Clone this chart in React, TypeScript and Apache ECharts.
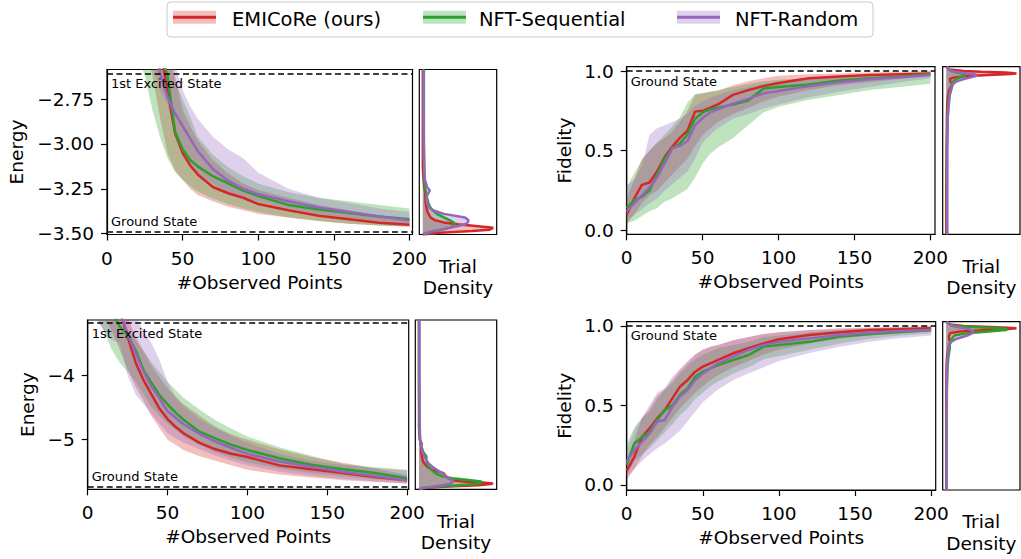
import React, { useEffect, useRef } from "react";
import * as echarts from "echarts";

// ---------- data ----------
const METHODS = ["EMICoRe (ours)", "NFT-Sequential", "NFT-Random"];
const COLORS = ["#d62728", "#2ca02c", "#9467bd"];
const X_TICKS = [0, 50, 100, 150, 200];
const X = [0, 5, 10, 15, 20, 25, 30, 35, 40, 45, 50, 55, 60, 70, 80, 90, 100, 120, 140, 160, 180, 200];

// top-left: energy
const E1_RED_MEAN = [-1.30, -1.45, -1.62, -1.80, -1.98, -2.15, -2.32, -2.47, -2.70, -2.94, -3.05, -3.12, -3.17, -3.24, -3.275, -3.30, -3.335, -3.37, -3.40, -3.42, -3.44, -3.45];
const E1_RED_LO = [-1.60, -1.75, -1.92, -2.10, -2.28, -2.45, -2.62, -2.85, -3.05, -3.15, -3.20, -3.25, -3.285, -3.32, -3.35, -3.37, -3.39, -3.41, -3.43, -3.445, -3.455, -3.46];
const E1_RED_HI = [-1.00, -1.15, -1.32, -1.50, -1.68, -1.85, -2.02, -2.20, -2.40, -2.62, -2.81, -2.90, -2.98, -3.09, -3.164, -3.22, -3.257, -3.30, -3.34, -3.37, -3.40, -3.425];
const E1_GRN_MEAN = [-1.30, -1.45, -1.62, -1.80, -1.98, -2.15, -2.32, -2.47, -2.62, -2.93, -3.03, -3.09, -3.125, -3.18, -3.22, -3.26, -3.29, -3.34, -3.365, -3.385, -3.405, -3.42];
const E1_GRN_LO = [-1.70, -1.90, -2.10, -2.30, -2.50, -2.62, -2.81, -2.96, -3.08, -3.155, -3.20, -3.235, -3.265, -3.305, -3.335, -3.36, -3.38, -3.41, -3.43, -3.445, -3.455, -3.462];
const E1_GRN_HI = [-1.00, -1.15, -1.32, -1.50, -1.68, -1.85, -2.02, -2.20, -2.45, -2.65, -2.75, -2.85, -2.96, -3.06, -3.13, -3.18, -3.22, -3.27, -3.30, -3.32, -3.34, -3.36];
const E1_PUR_MEAN = [-1.20, -1.35, -1.52, -1.70, -1.88, -2.05, -2.25, -2.60, -2.74, -2.83, -2.90, -2.97, -3.04, -3.14, -3.205, -3.25, -3.28, -3.32, -3.355, -3.38, -3.405, -3.425];
const E1_PUR_LO = [-1.50, -1.65, -1.82, -2.00, -2.18, -2.35, -2.55, -2.70, -2.78, -2.95, -3.07, -3.12, -3.16, -3.22, -3.276, -3.30, -3.32, -3.36, -3.39, -3.415, -3.43, -3.45];
const E1_PUR_HI = [-0.90, -1.05, -1.22, -1.40, -1.58, -1.75, -1.92, -2.10, -2.35, -2.56, -2.70, -2.79, -2.86, -2.96, -3.03, -3.08, -3.16, -3.25, -3.30, -3.33, -3.36, -3.38];
const E1_GROUND = -3.489;
const E1_EXCITED = -2.608;
const E1_TICKS = [-3.5, -3.25, -3.0, -2.75];

// top-right: fidelity
const F1_RED_MEAN = [0.10, 0.20, 0.285, 0.30, 0.37, 0.46, 0.525, 0.58, 0.625, 0.745, 0.75, 0.77, 0.79, 0.85, 0.88, 0.905, 0.925, 0.955, 0.965, 0.975, 0.98, 0.985];
const F1_RED_LO = [0.04, 0.10, 0.17, 0.22, 0.25, 0.30, 0.35, 0.40, 0.45, 0.53, 0.60, 0.64, 0.68, 0.73, 0.77, 0.81, 0.84, 0.88, 0.91, 0.93, 0.95, 0.97];
const F1_RED_HI = [0.20, 0.32, 0.45, 0.50, 0.55, 0.58, 0.62, 0.68, 0.75, 0.85, 0.86, 0.87, 0.875, 0.91, 0.935, 0.955, 0.97, 0.98, 0.985, 0.99, 0.995, 1.0];
const F1_GRN_MEAN = [0.14, 0.19, 0.21, 0.25, 0.35, 0.45, 0.515, 0.545, 0.60, 0.70, 0.74, 0.76, 0.77, 0.79, 0.815, 0.89, 0.90, 0.915, 0.94, 0.954, 0.964, 0.98];
const F1_GRN_LO = [0.044, 0.06, 0.09, 0.12, 0.14, 0.18, 0.20, 0.23, 0.26, 0.33, 0.42, 0.48, 0.52, 0.58, 0.66, 0.74, 0.775, 0.82, 0.85, 0.88, 0.90, 0.92];
const F1_GRN_HI = [0.27, 0.36, 0.44, 0.50, 0.55, 0.60, 0.65, 0.71, 0.80, 0.855, 0.86, 0.87, 0.88, 0.90, 0.92, 0.935, 0.945, 0.955, 0.965, 0.975, 0.98, 0.99];
const F1_PUR_MEAN = [0.12, 0.17, 0.22, 0.27, 0.33, 0.42, 0.515, 0.53, 0.56, 0.66, 0.705, 0.74, 0.76, 0.795, 0.825, 0.86, 0.875, 0.905, 0.93, 0.948, 0.96, 0.975];
const F1_PUR_LO = [0.06, 0.10, 0.13, 0.17, 0.20, 0.25, 0.29, 0.33, 0.37, 0.45, 0.55, 0.60, 0.64, 0.70, 0.73, 0.765, 0.79, 0.835, 0.87, 0.90, 0.93, 0.954];
const F1_PUR_HI = [0.28, 0.32, 0.40, 0.60, 0.64, 0.66, 0.68, 0.70, 0.73, 0.78, 0.81, 0.83, 0.85, 0.88, 0.90, 0.92, 0.93, 0.95, 0.96, 0.97, 0.98, 0.985];

// bottom-left: energy
const E2_RED_MEAN = [-2.40, -2.55, -2.70, -2.85, -3.00, -3.40, -3.80, -4.08, -4.30, -4.52, -4.68, -4.80, -4.90, -5.05, -5.15, -5.22, -5.27, -5.40, -5.46, -5.52, -5.58, -5.63];
const E2_RED_LO = [-2.80, -2.95, -3.10, -3.30, -3.60, -3.90, -4.18, -4.40, -4.64, -4.82, -5.00, -5.08, -5.16, -5.26, -5.33, -5.40, -5.47, -5.54, -5.59, -5.63, -5.66, -5.68];
const E2_RED_HI = [-2.00, -2.15, -2.30, -2.50, -2.90, -3.10, -3.40, -3.62, -3.85, -4.03, -4.20, -4.33, -4.45, -4.63, -4.80, -4.92, -5.00, -5.15, -5.27, -5.36, -5.45, -5.55];
const E2_GRN_MEAN = [-2.50, -2.65, -2.80, -3.00, -3.24, -3.38, -3.61, -3.92, -4.12, -4.31, -4.45, -4.58, -4.69, -4.876, -4.98, -5.08, -5.16, -5.29, -5.39, -5.46, -5.52, -5.60];
const E2_GRN_LO = [-2.90, -3.10, -3.30, -3.60, -3.80, -3.95, -4.10, -4.30, -4.50, -4.63, -4.75, -4.85, -4.95, -5.08, -5.20, -5.28, -5.35, -5.45, -5.52, -5.57, -5.62, -5.66];
const E2_GRN_HI = [-2.00, -2.20, -2.50, -3.10, -3.20, -3.30, -3.45, -3.62, -3.80, -3.95, -4.10, -4.23, -4.35, -4.53, -4.70, -4.83, -4.95, -5.12, -5.25, -5.38, -5.43, -5.47];
const E2_PUR_MEAN = [-2.40, -2.55, -2.70, -2.85, -3.00, -3.35, -3.66, -3.94, -4.18, -4.36, -4.56, -4.66, -4.76, -4.91, -5.03, -5.13, -5.22, -5.34, -5.42, -5.50, -5.565, -5.63];
const E2_PUR_LO = [-2.90, -3.10, -3.30, -3.45, -3.50, -4.00, -4.30, -4.45, -4.60, -4.75, -4.90, -4.98, -5.05, -5.15, -5.25, -5.33, -5.40, -5.50, -5.56, -5.61, -5.65, -5.68];
const E2_PUR_HI = [-2.00, -2.10, -2.20, -2.40, -2.60, -2.85, -3.10, -3.30, -3.50, -3.76, -4.10, -4.35, -4.48, -4.68, -4.82, -4.94, -5.05, -5.22, -5.33, -5.40, -5.44, -5.48];
const E2_GROUND = -5.73;
const E2_EXCITED = -3.193;
const E2_TICKS = [-5, -4];

// bottom-right: fidelity
const F2_RED_MEAN = [0.088, 0.176, 0.30, 0.355, 0.418, 0.47, 0.544, 0.618, 0.66, 0.712, 0.744, 0.765, 0.786, 0.828, 0.86, 0.89, 0.916, 0.943, 0.96, 0.975, 0.98, 0.985];
const F2_RED_LO = [0.03, 0.10, 0.18, 0.25, 0.30, 0.36, 0.42, 0.48, 0.53, 0.58, 0.62, 0.66, 0.69, 0.74, 0.78, 0.82, 0.85, 0.89, 0.92, 0.94, 0.955, 0.965];
const F2_RED_HI = [0.16, 0.28, 0.42, 0.48, 0.56, 0.60, 0.66, 0.72, 0.77, 0.82, 0.85, 0.87, 0.88, 0.91, 0.93, 0.95, 0.96, 0.975, 0.985, 0.99, 0.995, 1.0];
const F2_GRN_MEAN = [0.124, 0.26, 0.30, 0.334, 0.408, 0.47, 0.50, 0.565, 0.607, 0.68, 0.712, 0.733, 0.754, 0.786, 0.817, 0.87, 0.88, 0.90, 0.933, 0.95, 0.962, 0.975];
const F2_GRN_LO = [0.06, 0.15, 0.19, 0.23, 0.28, 0.33, 0.38, 0.44, 0.48, 0.54, 0.58, 0.62, 0.65, 0.70, 0.74, 0.79, 0.81, 0.85, 0.89, 0.92, 0.94, 0.955];
const F2_GRN_HI = [0.26, 0.36, 0.42, 0.46, 0.54, 0.60, 0.64, 0.70, 0.75, 0.79, 0.82, 0.84, 0.86, 0.88, 0.90, 0.93, 0.94, 0.96, 0.975, 0.985, 0.99, 0.995];
const F2_PUR_MEAN = [0.145, 0.218, 0.27, 0.323, 0.397, 0.408, 0.49, 0.555, 0.597, 0.66, 0.70, 0.733, 0.765, 0.807, 0.849, 0.88, 0.90, 0.922, 0.943, 0.958, 0.968, 0.975];
const F2_PUR_LO = [0.05, 0.10, 0.15, 0.19, 0.23, 0.26, 0.30, 0.34, 0.40, 0.46, 0.52, 0.56, 0.60, 0.66, 0.70, 0.74, 0.78, 0.83, 0.87, 0.90, 0.925, 0.94];
const F2_PUR_HI = [0.22, 0.34, 0.42, 0.50, 0.58, 0.61, 0.68, 0.73, 0.78, 0.82, 0.85, 0.87, 0.88, 0.91, 0.93, 0.95, 0.96, 0.975, 0.98, 0.985, 0.99, 0.995];
const F_GROUND = 1.0;
const F_TICKS = [0, 0.5, 1.0];

// trial densities (normalised), sampled along the value axis
const D1_Y = [-3.505, -3.495, -3.485, -3.478, -3.468, -3.458, -3.448, -3.438, -3.425, -3.41, -3.39, -3.37, -3.35, -3.33, -3.30, -3.28, -3.26, -3.24, -3.20, -3.13, -3.0, -2.8, -2.585];
const D1_RED = [0, 0.25, 0.7, 0.95, 1.0, 0.75, 0.5, 0.3, 0.17, 0.11, 0.08, 0.06, 0.05, 0.04, 0.035, 0.035, 0.03, 0.02, 0.01, 0, 0, 0, 0];
const D1_GRN = [0, 0.08, 0.18, 0.28, 0.38, 0.44, 0.46, 0.44, 0.38, 0.3, 0.2, 0.14, 0.1, 0.08, 0.06, 0.05, 0.04, 0.03, 0.02, 0.02, 0.015, 0.015, 0.015];
const D1_PUR = [0, 0.05, 0.15, 0.25, 0.38, 0.5, 0.6, 0.64, 0.65, 0.6, 0.3, 0.14, 0.08, 0.06, 0.05, 0.07, 0.1, 0.06, 0.03, 0.02, 0.015, 0.01, 0.01];

const D2_Y = [-0.025, 0.2, 0.5, 0.7, 0.8, 0.85, 0.88, 0.9, 0.92, 0.935, 0.95, 0.96, 0.968, 0.975, 0.98, 0.985, 0.99, 0.995, 1.0, 1.01, 1.027];
const D2_RED = [0, 0, 0.005, 0.01, 0.015, 0.03, 0.04, 0.07, 0.1, 0.06, 0.05, 0.12, 0.3, 0.6, 0.85, 1.0, 0.85, 0.5, 0.25, 0.05, 0];
const D2_GRN = [0.01, 0.01, 0.01, 0.02, 0.03, 0.05, 0.07, 0.08, 0.08, 0.1, 0.14, 0.2, 0.25, 0.27, 0.26, 0.22, 0.17, 0.12, 0.08, 0.04, 0.01];
const D2_PUR = [0.015, 0.015, 0.015, 0.02, 0.04, 0.05, 0.06, 0.08, 0.1, 0.15, 0.25, 0.35, 0.42, 0.43, 0.4, 0.3, 0.2, 0.12, 0.07, 0.03, 0.01];

const D3_Y = [-5.772, -5.75, -5.73, -5.71, -5.69, -5.68, -5.665, -5.65, -5.63, -5.60, -5.575, -5.55, -5.52, -5.47, -5.42, -5.37, -5.32, -5.26, -5.20, -5.10, -5.057, -5.0, -4.8, -4.0, -3.14];
const D3_RED = [0, 0.08, 0.4, 0.8, 0.97, 1.0, 0.85, 0.6, 0.45, 0.4, 0.37, 0.35, 0.33, 0.18, 0.11, 0.07, 0.05, 0.04, 0.03, 0.03, 0.035, 0.01, 0, 0, 0];
const D3_GRN = [0, 0.06, 0.3, 0.55, 0.75, 0.82, 0.85, 0.84, 0.7, 0.45, 0.33, 0.27, 0.22, 0.17, 0.13, 0.11, 0.1, 0.1, 0.06, 0.03, 0.02, 0.015, 0.005, 0, 0];
const D3_PUR = [0, 0.04, 0.2, 0.32, 0.4, 0.43, 0.45, 0.46, 0.45, 0.4, 0.36, 0.34, 0.32, 0.24, 0.18, 0.13, 0.1, 0.07, 0.05, 0.03, 0.02, 0.015, 0.01, 0.005, 0.005];

const D4_Y = [-0.033, 0.3, 0.6, 0.75, 0.8, 0.83, 0.86, 0.88, 0.9, 0.92, 0.94, 0.955, 0.965, 0.975, 0.98, 0.985, 0.99, 1.0, 1.01, 1.027];
const D4_RED = [0, 0, 0, 0.005, 0.01, 0.02, 0.03, 0.04, 0.06, 0.04, 0.04, 0.06, 0.2, 0.6, 0.85, 1.0, 0.8, 0.25, 0.06, 0];
const D4_GRN = [0.005, 0.005, 0.01, 0.02, 0.03, 0.04, 0.05, 0.05, 0.06, 0.08, 0.12, 0.3, 0.6, 0.85, 0.87, 0.75, 0.5, 0.15, 0.05, 0.01];
const D4_PUR = [0.005, 0.005, 0.008, 0.01, 0.02, 0.03, 0.035, 0.04, 0.07, 0.15, 0.3, 0.37, 0.39, 0.36, 0.32, 0.27, 0.2, 0.1, 0.04, 0.01];

// ---------- layout / styling ----------
const FONT = "'DejaVu Sans', 'Liberation Sans', sans-serif";
const FS = 18.5;

const PANELS: any[] = [
  {
    main: { left: 107, top: 69.5, width: 305.5, height: 165 },
    dens: { left: 419.3, width: 77.4 },
    xMax: 202, yMin: -3.505, yMax: -2.585, ticks: E1_TICKS, dec: 2,
    yName: "Energy", yNameGap: 81,
    mean: [E1_RED_MEAN, E1_GRN_MEAN, E1_PUR_MEAN],
    lo: [E1_RED_LO, E1_GRN_LO, E1_PUR_LO],
    hi: [E1_RED_HI, E1_GRN_HI, E1_PUR_HI],
    dY: D1_Y, dV: [D1_RED, D1_GRN, D1_PUR],
    refs: [
      { v: E1_GROUND, text: "Ground State", pos: "insideStartTop" },
      { v: E1_EXCITED, text: "1st Excited State", pos: "insideStartBottom" },
    ],
  },
  {
    main: { left: 626.7, top: 66.7, width: 308.3, height: 167.6 },
    dens: { left: 942.7, width: 77.3 },
    xMax: 203, yMin: -0.025, yMax: 1.027, ticks: F_TICKS, dec: 1,
    yName: "Fidelity", yNameGap: 53,
    mean: [F1_RED_MEAN, F1_GRN_MEAN, F1_PUR_MEAN],
    lo: [F1_RED_LO, F1_GRN_LO, F1_PUR_LO],
    hi: [F1_RED_HI, F1_GRN_HI, F1_PUR_HI],
    dY: D2_Y, dV: [D2_RED, D2_GRN, D2_PUR],
    refs: [{ v: F_GROUND, text: "Ground State", pos: "insideStartBottom" }],
  },
  {
    main: { left: 87.7, top: 320, width: 321, height: 169.3 },
    dens: { left: 415.3, width: 81.4 },
    xMax: 201, yMin: -5.772, yMax: -3.14, ticks: E2_TICKS, dec: 0,
    yName: "Energy", yNameGap: 51,
    mean: [E2_RED_MEAN, E2_GRN_MEAN, E2_PUR_MEAN],
    lo: [E2_RED_LO, E2_GRN_LO, E2_PUR_LO],
    hi: [E2_RED_HI, E2_GRN_HI, E2_PUR_HI],
    dY: D3_Y, dV: [D3_RED, D3_GRN, D3_PUR],
    refs: [
      { v: E2_GROUND, text: "Ground State", pos: "insideStartTop" },
      { v: E2_EXCITED, text: "1st Excited State", pos: "insideStartBottom" },
    ],
  },
  {
    main: { left: 626.7, top: 321.7, width: 309, height: 168.3 },
    dens: { left: 942.7, width: 77.3 },
    xMax: 203, yMin: -0.033, yMax: 1.027, ticks: F_TICKS, dec: 1,
    yName: "Fidelity", yNameGap: 53,
    mean: [F2_RED_MEAN, F2_GRN_MEAN, F2_PUR_MEAN],
    lo: [F2_RED_LO, F2_GRN_LO, F2_PUR_LO],
    hi: [F2_RED_HI, F2_GRN_HI, F2_PUR_HI],
    dY: D4_Y, dV: [D4_RED, D4_GRN, D4_PUR],
    refs: [{ v: F_GROUND, text: "Ground State", pos: "insideStartBottom" }],
  },
];

const fmt = (dec: number) => (v: number) => {
  const s = Math.abs(v).toFixed(dec);
  return v < -1e-9 ? "\u2212" + s : s;
};

const textStyle = { fontSize: FS, color: "#000", fontFamily: FONT };

function bandRender(color: string) {
  return (params: any, api: any) => {
    if (params.dataIndexInside !== 0) return null;
    const n = params.dataInsideLength;
    const top: number[][] = [];
    const bot: number[][] = [];
    for (let i = 0; i < n; i++) {
      const x = api.value(0, i);
      top.push(api.coord([x, api.value(2, i)]));
      bot.push(api.coord([x, api.value(1, i)]));
    }
    return {
      type: "polygon",
      shape: { points: top.concat(bot.reverse()) },
      style: { fill: color, opacity: 0.3 },
      silent: true,
    };
  };
}

function densFillRender(color: string) {
  return (params: any, api: any) => {
    if (params.dataIndexInside !== 0) return null;
    const n = params.dataInsideLength;
    const pts: number[][] = [api.coord([0, api.value(1, 0)])];
    for (let i = 0; i < n; i++) pts.push(api.coord([api.value(0, i), api.value(1, i)]));
    pts.push(api.coord([0, api.value(1, n - 1)]));
    return {
      type: "polygon",
      shape: { points: pts },
      style: { fill: color, opacity: 0.3 },
      silent: true,
    };
  };
}

function buildOption() {
  const grid: any[] = [];
  const xAxis: any[] = [];
  const yAxis: any[] = [];
  const series: any[] = [];

  PANELS.forEach((p, pi) => {
    const gm = pi * 2;
    const gd = pi * 2 + 1;
    grid.push({ ...p.main, show: true, borderColor: "#000", borderWidth: 1.2, containLabel: false });
    grid.push({
      left: p.dens.left, width: p.dens.width, top: p.main.top, height: p.main.height,
      show: true, borderColor: "#000", borderWidth: 1.2, containLabel: false,
    });

    xAxis.push({
      gridIndex: gm, type: "value", min: 0, max: p.xMax,
      axisLine: { show: true, onZero: false, lineStyle: { color: "#000", width: 1.2 } },
      axisTick: { show: true, length: 6, lineStyle: { color: "#000", width: 1.2 }, customValues: X_TICKS },
      axisLabel: { ...textStyle, margin: 14, customValues: X_TICKS },
      splitLine: { show: false },
      name: "#Observed Points", nameLocation: "middle", nameGap: 38,
      nameTextStyle: textStyle,
    });
    xAxis.push({
      gridIndex: gd, type: "value", min: -0.05, max: 1.05,
      axisLine: { show: false }, axisTick: { show: false }, axisLabel: { show: false },
      splitLine: { show: false },
      name: "Trial\nDensity", nameLocation: "middle", nameGap: 21,
      nameTextStyle: { ...textStyle, lineHeight: 21.5 },
    });
    yAxis.push({
      gridIndex: gm, type: "value", min: p.yMin, max: p.yMax,
      axisLine: { show: true, onZero: false, lineStyle: { color: "#000", width: 1.2 } },
      axisTick: { show: true, length: 6, lineStyle: { color: "#000", width: 1.2 }, customValues: p.ticks },
      axisLabel: { ...textStyle, margin: 13, customValues: p.ticks, formatter: fmt(p.dec) },
      splitLine: { show: false },
      name: p.yName, nameLocation: "middle", nameGap: p.yNameGap,
      nameTextStyle: textStyle,
    });
    yAxis.push({
      gridIndex: gd, type: "value", min: p.yMin, max: p.yMax,
      axisLine: { show: false }, axisTick: { show: false }, axisLabel: { show: false },
      splitLine: { show: false },
    });

    // bands
    for (let m = 0; m < 3; m++) {
      series.push({
        type: "custom", name: METHODS[m] + " band", xAxisIndex: gm, yAxisIndex: gm,
        clip: true, silent: true, z: 1,
        encode: { x: 0, y: [1, 2] },
        data: X.map((x, i) => [x, p.lo[m][i], p.hi[m][i]]),
        renderItem: bandRender(COLORS[m]),
      });
    }
    // mean lines
    for (let m = 0; m < 3; m++) {
      const s: any = {
        type: "line", name: METHODS[m], xAxisIndex: gm, yAxisIndex: gm,
        data: X.map((x, i) => [x, p.mean[m][i]]),
        showSymbol: false, symbol: "none", clip: true, silent: true, z: 3,
        lineStyle: { color: COLORS[m], width: 2.5 },
        itemStyle: { color: COLORS[m] },
      };
      if (m === 0) {
        s.markLine = {
          silent: true, symbol: ["none", "none"],
          lineStyle: { color: "#000", type: [6, 3.5], width: 1.5 },
          data: p.refs.map((r: any) => ({
            yAxis: r.v,
            label: {
              show: true, formatter: r.text, position: r.pos, distance: [4, 3.5],
              fontSize: 13, color: "#000", fontFamily: FONT,
            },
          })),
        };
      }
      series.push(s);
    }
    // densities
    for (let m = 0; m < 3; m++) {
      series.push({
        type: "custom", name: METHODS[m] + " density fill", xAxisIndex: gd, yAxisIndex: gd,
        clip: true, silent: true, z: 1,
        encode: { x: 0, y: 1 },
        data: p.dY.map((y: number, i: number) => [p.dV[m][i], y]),
        renderItem: densFillRender(COLORS[m]),
      });
    }
    for (let m = 0; m < 3; m++) {
      series.push({
        type: "line", name: METHODS[m] + " density", xAxisIndex: gd, yAxisIndex: gd,
        data: p.dY.map((y: number, i: number) => [p.dV[m][i], y]),
        showSymbol: false, symbol: "none", clip: true, silent: true, z: 3,
        lineStyle: { color: COLORS[m], width: 2.5 },
        itemStyle: { color: COLORS[m] },
      });
    }
  });

  // legend (drawn as graphic to reproduce band+line handles)
  const patchX = [173, 423, 677];
  const textX = [232, 479, 735];
  const graphic: any[] = [
    {
      type: "rect", shape: { x: 167, y: 2, width: 706, height: 35, r: 4 },
      style: { fill: "#fff", stroke: "#cccccc", lineWidth: 1 }, z: 10,
    },
  ];
  METHODS.forEach((name, m) => {
    graphic.push({
      type: "rect", shape: { x: patchX[m], y: 10.8, width: 43, height: 13 },
      style: { fill: COLORS[m], opacity: 0.3 }, z: 11,
    });
    graphic.push({
      type: "line", shape: { x1: patchX[m], y1: 17.3, x2: patchX[m] + 43, y2: 17.3 },
      style: { stroke: COLORS[m], lineWidth: 3 }, z: 12,
    });
    graphic.push({
      type: "text", x: textX[m], y: 19, z: 12,
      style: {
        text: name, fontSize: 19.5, fontFamily: FONT, fill: "#000",
        align: "left", verticalAlign: "middle",
      },
    });
  });

  return {
    animation: false,
    backgroundColor: "#ffffff",
    grid, xAxis, yAxis, series, graphic,
  };
}

export default function App() {
  const ref = useRef<HTMLDivElement>(null);
  useEffect(() => {
    document.body.style.margin = "0";
    if (!ref.current) return;
    const chart = echarts.init(ref.current, undefined, { renderer: "svg" });
    chart.setOption(buildOption() as any);
    return () => chart.dispose();
  }, []);
  return (
    <div
      ref={ref}
      style={{ position: "absolute", left: 0, top: 0, width: 1021, height: 559 }}
    />
  );
}
